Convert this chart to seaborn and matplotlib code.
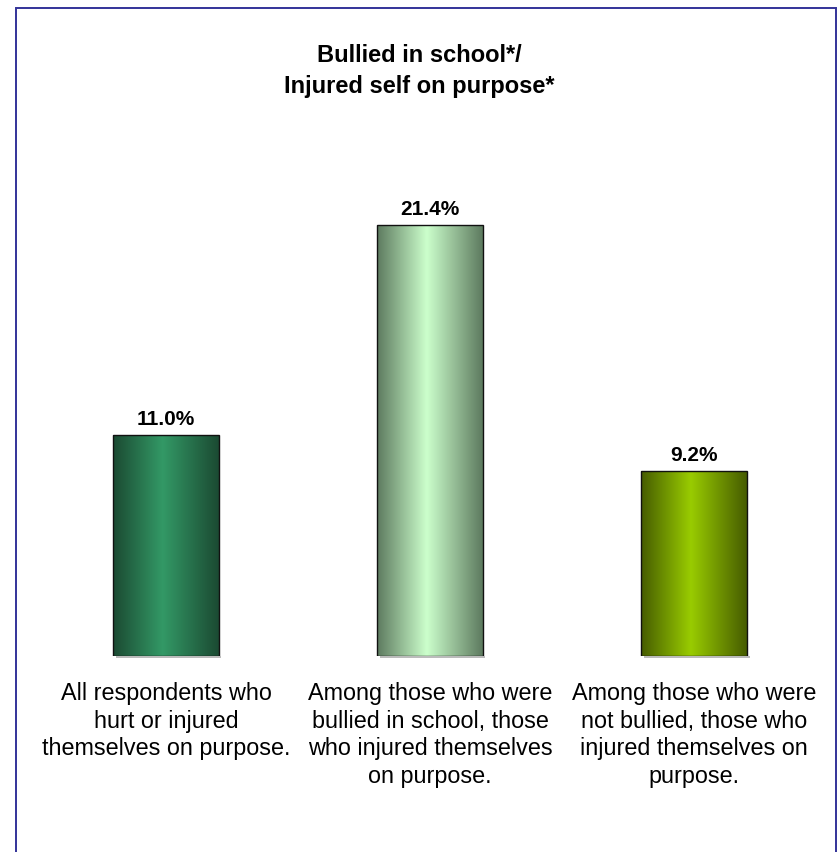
import numpy as np
import pandas as pd
import matplotlib
matplotlib.use("Agg")
import matplotlib.pyplot as plt
import seaborn as sns
from matplotlib.colors import LinearSegmentedColormap
from matplotlib.patches import Rectangle

categories = [
    "All respondents who\nhurt or injured\nthemselves on purpose.",
    "Among those who were\nbullied in school, those\nwho injured themselves\non purpose.",
    "Among those who were\nnot bullied, those who\ninjured themselves on\npurpose.",
]
values = [11.0, 21.4, 9.2]
value_labels = ["11.0%", "21.4%", "9.2%"]
edge_colors = ["#1b4a32", "#5d7a5f", "#465c00"]
center_colors = ["#339966", "#ccffcc", "#99cc00"]
title_text = "Bullied in school*/\nInjured self on purpose*"

sns.set_theme(style="white")
plt.rcParams["font.family"] = ["Liberation Sans", "DejaVu Sans"]

W, H = 839, 853
fig = plt.figure(figsize=(W / 100, H / 100), dpi=100)
fig.patch.set_facecolor("white")

ax_left, ax_right = 20, 820
ax_top, ax_bottom = 152, 657
ax = fig.add_axes([ax_left / W, 1 - ax_bottom / H, (ax_right - ax_left) / W, (ax_bottom - ax_top) / H])

df = pd.DataFrame({"cat": categories, "val": values})
sns.barplot(data=df, x="cat", y="val", ax=ax, width=0.40, color="white",
            edgecolor="#111111", linewidth=1.0, zorder=2)

ymax = 25.1
ax.set_ylim(0, ymax)
ax.set_xlim(-0.553, 2.477)

for i, p in enumerate(ax.patches):
    x0, y0 = p.get_x(), p.get_y()
    w, h = p.get_width(), p.get_height()
    cmap = LinearSegmentedColormap.from_list(
        f"g{i}", [(0, edge_colors[i]), (0.47, center_colors[i]), (1, edge_colors[i])])
    grad = np.linspace(0, 1, 256).reshape(1, -1)
    im = ax.imshow(grad, cmap=cmap, aspect="auto", extent=(x0, x0 + w, y0, y0 + h),
                   zorder=1.5, interpolation="bicubic")
    im.set_clip_path(p)
    p.set_facecolor("none")
    p.set_zorder(3)
    ax.add_patch(Rectangle((x0 + 0.01, -0.12), w, 0.12, facecolor="#bbbbbb",
                           edgecolor="none", zorder=1, clip_on=False))
    ax.text(x0 + w / 2, values[i] + 0.35, value_labels[i], ha="center", va="bottom",
            fontsize=15, fontweight="bold", color="black")

ax.set_xlim(-0.553, 2.477)
ax.set_ylim(0, ymax)
ax.set_xlabel("")
ax.set_ylabel("")
ax.set_yticks([])
ax.tick_params(axis="x", length=0, pad=18, labelsize=16.8, labelcolor="black")
for lbl in ax.get_xticklabels():
    lbl.set_linespacing(1.26)
    lbl.set_verticalalignment("top")
for s in ax.spines.values():
    s.set_visible(False)
ax.set_facecolor("none")

fig.text(0.5, 1 - 71 / H, title_text, ha="center", va="center", fontsize=17,
         fontweight="bold", linespacing=1.47, color="black")

frame = Rectangle((15.5 / W, -0.05), (836 - 15.5) / W, 1 - 8.5 / H + 0.05,
                  transform=fig.transFigure, facecolor="none", edgecolor="#333399",
                  linewidth=1.4, zorder=10)
fig.patches.append(frame)

fig.savefig("out.png", dpi=100)
